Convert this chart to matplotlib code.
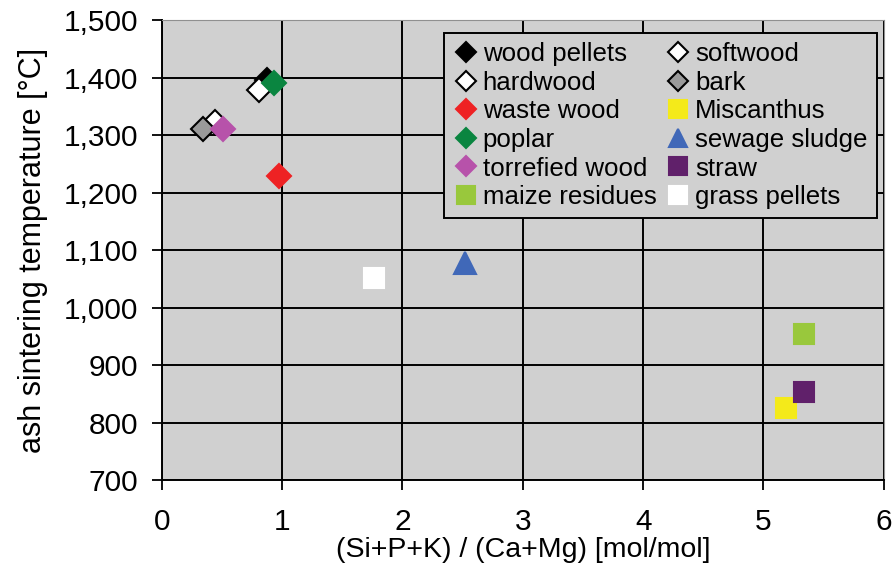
import matplotlib.pyplot as plt

plt.rcParams['font.family'] = ['Liberation Sans', 'DejaVu Sans']

# fuel types and read-off values
names = ['wood pellets', 'hardwood', 'waste wood', 'poplar', 'torrefied wood', 'maize residues',
         'softwood', 'bark', 'Miscanthus', 'sewage sludge', 'straw', 'grass pellets']
ratio = [0.87, 0.81, 0.97, 0.93, 0.51, 5.34, 0.44, 0.34, 5.19, 2.52, 5.34, 1.76]
temp = [1396, 1378, 1229, 1390, 1310, 954, 1322, 1310, 825, 1078, 853, 1051]

markers = ['D', 'D', 'D', 'D', 'D', 's', 'D', 'D', 's', '^', 's', 's']
faces = ['black', 'white', '#ee2224', '#0a8540', '#b752aa', '#99c83c',
         'white', '#9a9a9a', '#f4ea1a', '#4068b8', '#60206a', 'white']
edges = ['black', 'black', '#ee2224', '#0a8540', '#b752aa', '#99c83c',
         'black', 'black', '#f4ea1a', '#4068b8', '#60206a', 'white']
sizes = [12.5, 12.5, 12.5, 12.5, 12.5, 15, 12.5, 12.5, 15, 16, 15, 15]
order = [9, 5, 8, 10, 11, 0, 1, 3, 6, 7, 4, 2]

fig = plt.figure(figsize=(8.94, 5.80), dpi=100)
ax = fig.add_axes([0.181, 0.172, 0.8076, 0.7935])
ax.set_facecolor('#d0d0d0')

handles = {}
for i in order:
    h, = ax.plot(ratio[i], temp[i], linestyle='none', marker=markers[i], markersize=sizes[i],
                 markerfacecolor=faces[i], markeredgecolor=edges[i], markeredgewidth=1.5,
                 label=names[i], zorder=3)
    handles[i] = h

ax.set_xlim(0, 6)
ax.set_ylim(700, 1500)
ax.set_xticks(range(0, 7))
ax.set_yticks(range(700, 1501, 100))
ax.set_yticklabels([f'{v:,}' for v in range(700, 1501, 100)])
ax.grid(True, color='black', linewidth=1.4)
ax.set_axisbelow(True)
ax.tick_params(labelsize=21.5, direction='out', length=7, width=1.3, color='black')
ax.tick_params(axis='x', pad=13)
ax.tick_params(axis='y', pad=10)
for s in ['top', 'right']:
    ax.spines[s].set_color('#909090')
for s in ['left', 'bottom']:
    ax.spines[s].set_color('black')
    ax.spines[s].set_linewidth(1.4)

ax.set_xlabel('(Si+P+K) / (Ca+Mg) [mol/mol]', fontsize=20.5, labelpad=1)
ax.set_ylabel('ash sintering temperature [°C]', fontsize=22, labelpad=11)

leg = ax.legend([handles[i] for i in range(12)], names, ncol=2, loc='upper right',
                bbox_to_anchor=(0.99, 0.972), bbox_transform=ax.transAxes,
                fontsize=18.6, frameon=True, fancybox=False,
                facecolor='#d0d0d0', edgecolor='black', handletextpad=0.15,
                handlelength=1.0, columnspacing=0.35, labelspacing=0.18, borderpad=0.35,
                borderaxespad=0.0, markerscale=0.85)
leg.get_frame().set_linewidth(1.4)
leg.get_frame().set_alpha(1)

fig.savefig('out.png', dpi=100)
